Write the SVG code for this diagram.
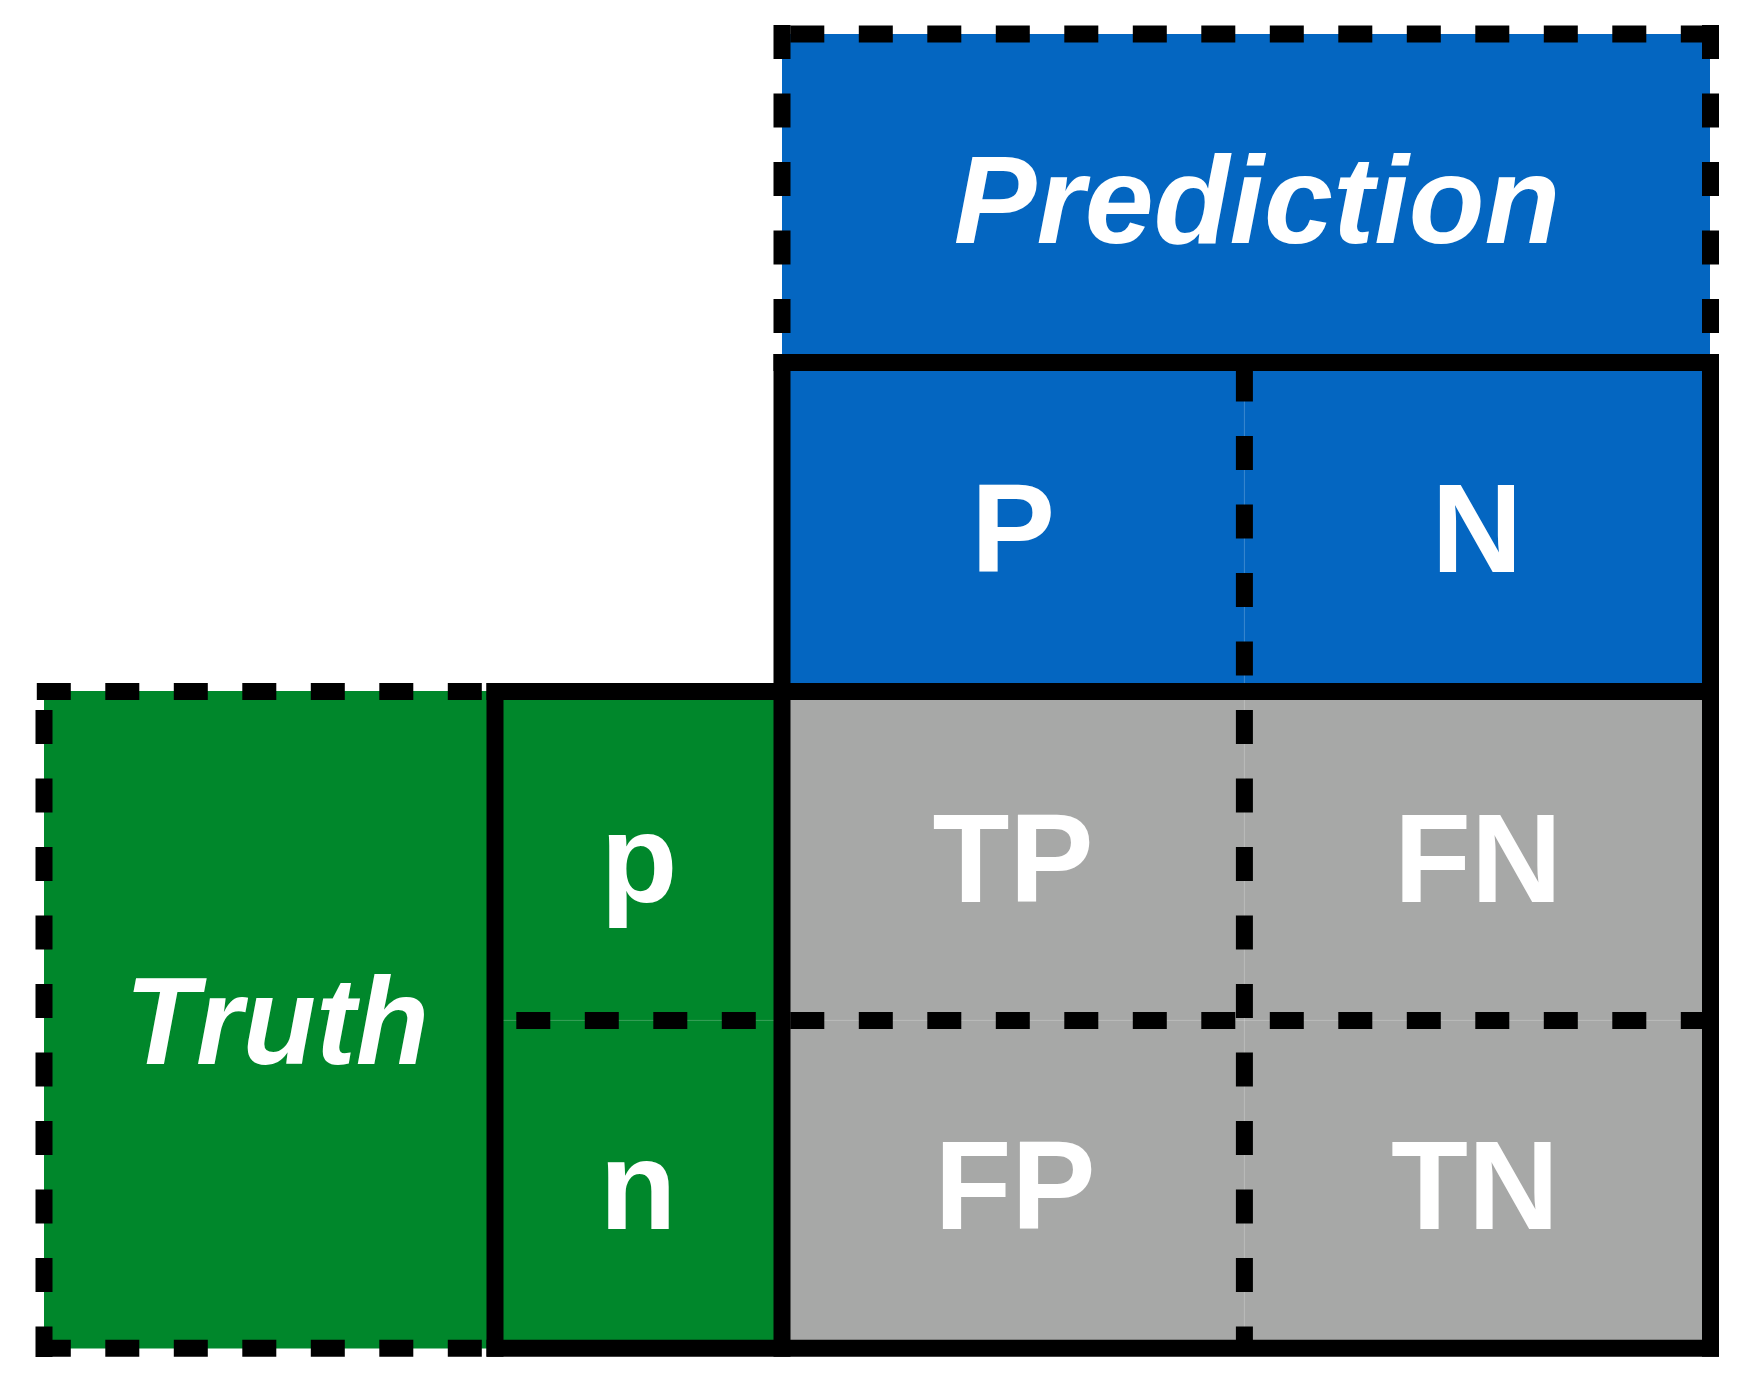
<svg xmlns="http://www.w3.org/2000/svg" width="1742" height="1382" viewBox="0 0 1742 1382">
<style>
.blue{fill:#0466C1}
.green{fill:#00872B}
.gray{fill:#A7A8A7}
.lbl{font-family:"Liberation Sans",Arial,sans-serif;font-weight:bold;font-size:126px;fill:#fff;text-anchor:middle}
.it{font-style:italic;font-size:124px}
.seam{stroke:#fff;stroke-opacity:0.22;stroke-width:1;fill:none}
.solid{stroke:#000;stroke-width:17;fill:none;stroke-linecap:butt}
.dash{stroke:#000;stroke-width:17;fill:none;stroke-dasharray:34 34.5;stroke-linecap:butt}
</style>
<rect width="1742" height="1382" fill="#fff"/>
<g id="prediction">
<rect class="blue" x="782" y="34" width="928" height="329"/>
<text class="lbl it" x="1257" y="243">Prediction</text>
</g>
<g id="pred-P">
<rect class="blue" x="782" y="362" width="462.5" height="329.5"/>
<text class="lbl" x="1013" y="572">P</text>
</g>
<g id="pred-N">
<rect class="blue" x="1244" y="362" width="466" height="329.5"/>
<text class="lbl" x="1477" y="572">N</text>
</g>
<g id="truth">
<rect class="green" x="44" y="691" width="451.5" height="657.5"/>
<text class="lbl it" x="277" y="1064" textLength="304" lengthAdjust="spacingAndGlyphs">Truth</text>
</g>
<g id="truth-p">
<rect class="green" x="495" y="691" width="287.5" height="329.5"/>
<text class="lbl" x="639" y="902">p</text>
</g>
<g id="truth-n">
<rect class="green" x="495" y="1020" width="287.5" height="328.5"/>
<text class="lbl" x="638" y="1229">n</text>
</g>
<g id="TP">
<rect class="gray" x="782" y="691" width="462.5" height="329.5"/>
<text class="lbl" x="1013" y="902">TP</text>
</g>
<g id="FN">
<rect class="gray" x="1244" y="691" width="466" height="329.5"/>
<text class="lbl" x="1478" y="902">FN</text>
</g>
<g id="FP">
<rect class="gray" x="782" y="1020" width="462.5" height="328.5"/>
<text class="lbl" x="1015" y="1229">FP</text>
</g>
<g id="TN">
<rect class="gray" x="1244" y="1020" width="466" height="328.5"/>
<text class="lbl" x="1475" y="1229">TN</text>
</g>
<g id="connectors">
<line class="seam" x1="1244.4" y1="362" x2="1244.4" y2="1348"/>
<line class="seam" x1="495" y1="1020.4" x2="1710" y2="1020.4"/>
<line class="dash" x1="790.3" y1="34" x2="1719" y2="34"/>
<line class="dash" x1="782" y1="25" x2="782" y2="354"/>
<line class="dash" x1="1710.5" y1="25" x2="1710.5" y2="354"/>
<line class="dash" x1="36.8" y1="691.5" x2="486" y2="691.5"/>
<line class="dash" x1="36.8" y1="1348.3" x2="486" y2="1348.3"/>
<line class="dash" x1="44" y1="710" x2="44" y2="1357"/>
<line class="dash" x1="516.3" y1="1020.4" x2="1702" y2="1020.4"/>
<line class="dash" x1="1244.4" y1="367.5" x2="1244.4" y2="1348"/>
<line class="solid" x1="773.5" y1="362.5" x2="1719" y2="362.5"/>
<line class="solid" x1="486.5" y1="691.5" x2="1719" y2="691.5"/>
<line class="solid" x1="486.5" y1="1348.3" x2="1719" y2="1348.3"/>
<line class="solid" x1="495" y1="683" x2="495" y2="1356.8"/>
<line class="solid" x1="782" y1="354" x2="782" y2="1356.8"/>
<line class="solid" x1="1710.5" y1="354" x2="1710.5" y2="1356.8"/>
</g>
</svg>
